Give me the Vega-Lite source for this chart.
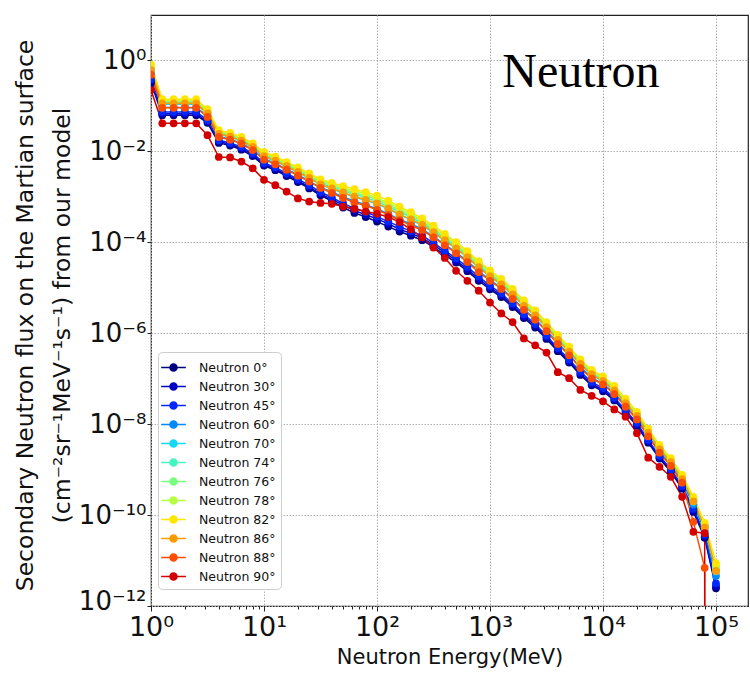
{
  "$schema": "https://vega.github.io/schema/vega-lite/v6.json",
  "width": 597,
  "height": 591,
  "autosize": {"type": "none"},
  "padding": {"left": 151, "top": 15, "right": 2, "bottom": 69},
  "background": "white",
  "config": {"view": {"stroke": "#222222", "strokeWidth": 1.2}, "font": "DejaVu Sans"},
  "datasets": {
    "flux": [
      {"E": 1, "n0": 0.316, "n30": 0.347, "n45": 0.380, "n60": 0.501, "n70": 0.589, "n74": 0.646, "n76": 0.692, "n78": 0.741, "n82": 0.794, "n86": 0.603, "n88": 0.479, "n90": 0.219},
      {"E": 1.259, "n0": 0.0617, "n30": 0.0661, "n45": 0.0724, "n60": 0.0912, "n70": 0.107, "n74": 0.115, "n76": 0.123, "n78": 0.129, "n82": 0.138, "n86": 0.112, "n88": 0.0891, "n90": 0.0407},
      {"E": 1.585, "n0": 0.0617, "n30": 0.0661, "n45": 0.0724, "n60": 0.0912, "n70": 0.107, "n74": 0.115, "n76": 0.123, "n78": 0.129, "n82": 0.138, "n86": 0.112, "n88": 0.0891, "n90": 0.0407},
      {"E": 1.995, "n0": 0.0617, "n30": 0.0661, "n45": 0.0724, "n60": 0.0912, "n70": 0.107, "n74": 0.115, "n76": 0.123, "n78": 0.129, "n82": 0.138, "n86": 0.112, "n88": 0.0891, "n90": 0.0407},
      {"E": 2.512, "n0": 0.0617, "n30": 0.0661, "n45": 0.0724, "n60": 0.0912, "n70": 0.107, "n74": 0.115, "n76": 0.123, "n78": 0.129, "n82": 0.138, "n86": 0.112, "n88": 0.0891, "n90": 0.0407},
      {"E": 3.162, "n0": 0.0417, "n30": 0.0447, "n45": 0.0479, "n60": 0.0589, "n70": 0.0661, "n74": 0.0708, "n76": 0.0741, "n78": 0.0794, "n82": 0.0832, "n86": 0.0676, "n88": 0.0562, "n90": 0.0224},
      {"E": 3.981, "n0": 0.0151, "n30": 0.0162, "n45": 0.0174, "n60": 0.0209, "n70": 0.0234, "n74": 0.0251, "n76": 0.0263, "n78": 0.0275, "n82": 0.0288, "n86": 0.0240, "n88": 0.0204, "n90": 0.00741},
      {"E": 5.012, "n0": 0.0132, "n30": 0.0141, "n45": 0.0151, "n60": 0.0182, "n70": 0.0204, "n74": 0.0219, "n76": 0.0229, "n78": 0.0240, "n82": 0.0251, "n86": 0.0209, "n88": 0.0178, "n90": 0.00724},
      {"E": 6.310, "n0": 0.0107, "n30": 0.0115, "n45": 0.0123, "n60": 0.0148, "n70": 0.0166, "n74": 0.0178, "n76": 0.0186, "n78": 0.0195, "n82": 0.0204, "n86": 0.0170, "n88": 0.0145, "n90": 0.00589},
      {"E": 7.943, "n0": 0.00776, "n30": 0.00832, "n45": 0.00891, "n60": 0.0107, "n70": 0.0120, "n74": 0.0129, "n76": 0.0135, "n78": 0.0141, "n82": 0.0148, "n86": 0.0123, "n88": 0.0105, "n90": 0.00417},
      {"E": 10, "n0": 0.00479, "n30": 0.00513, "n45": 0.00550, "n60": 0.00676, "n70": 0.00759, "n74": 0.00813, "n76": 0.00851, "n78": 0.00912, "n82": 0.00955, "n86": 0.00776, "n88": 0.00646, "n90": 0.00234},
      {"E": 12.59, "n0": 3.80e-3, "n30": 4.07e-3, "n45": 4.37e-3, "n60": 5.37e-3, "n70": 6.03e-3, "n74": 6.46e-3, "n76": 6.76e-3, "n78": 7.24e-3, "n82": 7.59e-3, "n86": 6.17e-3, "n88": 5.13e-3, "n90": 1.78e-3},
      {"E": 15.85, "n0": 2.82e-3, "n30": 3.02e-3, "n45": 3.24e-3, "n60": 3.98e-3, "n70": 4.57e-3, "n74": 4.90e-3, "n76": 5.13e-3, "n78": 5.50e-3, "n82": 5.75e-3, "n86": 4.68e-3, "n88": 3.89e-3, "n90": 1.29e-3},
      {"E": 19.95, "n0": 2.09e-3, "n30": 2.24e-3, "n45": 2.40e-3, "n60": 3.02e-3, "n70": 3.47e-3, "n74": 3.72e-3, "n76": 3.89e-3, "n78": 4.07e-3, "n82": 4.37e-3, "n86": 3.47e-3, "n88": 2.88e-3, "n90": 9.12e-4},
      {"E": 25.12, "n0": 1.51e-3, "n30": 1.62e-3, "n45": 1.78e-3, "n60": 2.19e-3, "n70": 2.51e-3, "n74": 2.75e-3, "n76": 2.88e-3, "n78": 3.02e-3, "n82": 3.24e-3, "n86": 2.57e-3, "n88": 2.14e-3, "n90": 7.76e-4},
      {"E": 31.62, "n0": 1.07e-3, "n30": 1.15e-3, "n45": 1.26e-3, "n60": 1.58e-3, "n70": 1.86e-3, "n74": 2.00e-3, "n76": 2.14e-3, "n78": 2.24e-3, "n82": 2.40e-3, "n86": 1.86e-3, "n88": 1.55e-3, "n90": 7.24e-4},
      {"E": 39.81, "n0": 7.94e-4, "n30": 8.71e-4, "n45": 9.55e-4, "n60": 1.26e-3, "n70": 1.48e-3, "n74": 1.62e-3, "n76": 1.74e-3, "n78": 1.86e-3, "n82": 2.00e-3, "n86": 1.51e-3, "n88": 1.20e-3, "n90": 6.92e-4},
      {"E": 50.12, "n0": 5.75e-4, "n30": 6.46e-4, "n45": 7.08e-4, "n60": 9.77e-4, "n70": 1.20e-3, "n74": 1.35e-3, "n76": 1.45e-3, "n78": 1.55e-3, "n82": 1.70e-3, "n86": 1.23e-3, "n88": 9.33e-4, "n90": 6.03e-4},
      {"E": 63.10, "n0": 4.37e-4, "n30": 4.90e-4, "n45": 5.50e-4, "n60": 7.94e-4, "n70": 9.77e-4, "n74": 1.12e-3, "n76": 1.20e-3, "n78": 1.32e-3, "n82": 1.45e-3, "n86": 1.00e-3, "n88": 7.41e-4, "n90": 5.37e-4},
      {"E": 79.43, "n0": 3.55e-4, "n30": 3.98e-4, "n45": 4.57e-4, "n60": 6.61e-4, "n70": 8.32e-4, "n74": 9.55e-4, "n76": 1.05e-3, "n78": 1.15e-3, "n82": 1.26e-3, "n86": 8.51e-4, "n88": 6.31e-4, "n90": 4.68e-4},
      {"E": 100, "n0": 2.82e-4, "n30": 3.24e-4, "n45": 3.63e-4, "n60": 5.37e-4, "n70": 6.92e-4, "n74": 7.76e-4, "n76": 8.51e-4, "n78": 9.33e-4, "n82": 1.05e-3, "n86": 7.08e-4, "n88": 5.13e-4, "n90": 4.17e-4},
      {"E": 125.9, "n0": 2.19e-4, "n30": 2.51e-4, "n45": 2.82e-4, "n60": 4.17e-4, "n70": 5.37e-4, "n74": 6.03e-4, "n76": 6.61e-4, "n78": 7.24e-4, "n82": 8.13e-4, "n86": 5.50e-4, "n88": 3.98e-4, "n90": 3.55e-4},
      {"E": 158.5, "n0": 1.70e-4, "n30": 1.91e-4, "n45": 2.19e-4, "n60": 3.16e-4, "n70": 3.98e-4, "n74": 4.57e-4, "n76": 5.01e-4, "n78": 5.50e-4, "n82": 6.03e-4, "n86": 4.07e-4, "n88": 3.02e-4, "n90": 2.75e-4},
      {"E": 199.5, "n0": 1.38e-4, "n30": 1.55e-4, "n45": 1.74e-4, "n60": 2.51e-4, "n70": 3.09e-4, "n74": 3.55e-4, "n76": 3.80e-4, "n78": 4.17e-4, "n82": 4.57e-4, "n86": 3.16e-4, "n88": 2.34e-4, "n90": 1.91e-4},
      {"E": 251.2, "n0": 1.10e-4, "n30": 1.23e-4, "n45": 1.38e-4, "n60": 1.91e-4, "n70": 2.34e-4, "n74": 2.57e-4, "n76": 2.82e-4, "n78": 3.02e-4, "n82": 3.31e-4, "n86": 2.40e-4, "n88": 1.82e-4, "n90": 1.26e-4},
      {"E": 316.2, "n0": 7.76e-5, "n30": 8.71e-5, "n45": 9.55e-5, "n60": 1.32e-4, "n70": 1.62e-4, "n74": 1.82e-4, "n76": 1.95e-4, "n78": 2.09e-4, "n82": 2.29e-4, "n86": 1.66e-4, "n88": 1.26e-4, "n90": 7.59e-5},
      {"E": 398.1, "n0": 5.25e-5, "n30": 5.89e-5, "n45": 6.46e-5, "n60": 8.91e-5, "n70": 1.07e-4, "n74": 1.20e-4, "n76": 1.29e-4, "n78": 1.38e-4, "n82": 1.51e-4, "n86": 1.10e-4, "n88": 8.51e-5, "n90": 4.47e-5},
      {"E": 501.2, "n0": 3.55e-5, "n30": 3.89e-5, "n45": 4.37e-5, "n60": 5.89e-5, "n70": 7.24e-5, "n74": 7.94e-5, "n76": 8.51e-5, "n78": 9.12e-5, "n82": 1.00e-4, "n86": 7.24e-5, "n88": 5.62e-5, "n90": 2.34e-5},
      {"E": 631.0, "n0": 2.29e-5, "n30": 2.51e-5, "n45": 2.82e-5, "n60": 3.80e-5, "n70": 4.57e-5, "n74": 5.01e-5, "n76": 5.37e-5, "n78": 5.75e-5, "n82": 6.31e-5, "n86": 4.68e-5, "n88": 3.63e-5, "n90": 1.41e-5},
      {"E": 794.3, "n0": 1.41e-5, "n30": 1.55e-5, "n45": 1.74e-5, "n60": 2.29e-5, "n70": 2.75e-5, "n74": 3.09e-5, "n76": 3.31e-5, "n78": 3.55e-5, "n82": 3.80e-5, "n86": 2.82e-5, "n88": 2.19e-5, "n90": 8.51e-6},
      {"E": 1000, "n0": 9.12e-6, "n30": 1.00e-5, "n45": 1.10e-5, "n60": 1.48e-5, "n70": 1.78e-5, "n74": 1.95e-5, "n76": 2.09e-5, "n78": 2.24e-5, "n82": 2.40e-5, "n86": 1.78e-5, "n88": 1.41e-5, "n90": 4.68e-6},
      {"E": 1259, "n0": 6.17e-6, "n30": 6.76e-6, "n45": 7.41e-6, "n60": 9.77e-6, "n70": 1.15e-5, "n74": 1.26e-5, "n76": 1.35e-5, "n78": 1.45e-5, "n82": 1.55e-5, "n86": 1.17e-5, "n88": 9.33e-6, "n90": 2.69e-6},
      {"E": 1585, "n0": 3.72e-6, "n30": 4.07e-6, "n45": 4.47e-6, "n60": 5.89e-6, "n70": 6.92e-6, "n74": 7.59e-6, "n76": 8.13e-6, "n78": 8.71e-6, "n82": 9.33e-6, "n86": 7.08e-6, "n88": 5.62e-6, "n90": 1.74e-6},
      {"E": 1995, "n0": 2.14e-6, "n30": 2.34e-6, "n45": 2.57e-6, "n60": 3.31e-6, "n70": 3.98e-6, "n74": 4.27e-6, "n76": 4.57e-6, "n78": 4.90e-6, "n82": 5.25e-6, "n86": 3.98e-6, "n88": 3.24e-6, "n90": 7.59e-7},
      {"E": 2512, "n0": 1.32e-6, "n30": 1.45e-6, "n45": 1.58e-6, "n60": 2.04e-6, "n70": 2.40e-6, "n74": 2.63e-6, "n76": 2.75e-6, "n78": 2.95e-6, "n82": 3.16e-6, "n86": 2.45e-6, "n88": 1.95e-6, "n90": 5.37e-7},
      {"E": 3162, "n0": 7.41e-7, "n30": 8.13e-7, "n45": 8.71e-7, "n60": 1.12e-6, "n70": 1.32e-6, "n74": 1.45e-6, "n76": 1.51e-6, "n78": 1.62e-6, "n82": 1.74e-6, "n86": 1.35e-6, "n88": 1.10e-6, "n90": 3.72e-7},
      {"E": 3981, "n0": 3.98e-7, "n30": 4.37e-7, "n45": 4.68e-7, "n60": 6.03e-7, "n70": 6.92e-7, "n74": 7.59e-7, "n76": 8.13e-7, "n78": 8.51e-7, "n82": 9.12e-7, "n86": 7.08e-7, "n88": 5.75e-7, "n90": 1.38e-7},
      {"E": 5012, "n0": 2.24e-7, "n30": 2.40e-7, "n45": 2.63e-7, "n60": 3.31e-7, "n70": 3.89e-7, "n74": 4.17e-7, "n76": 4.47e-7, "n78": 4.68e-7, "n82": 5.01e-7, "n86": 3.89e-7, "n88": 3.24e-7, "n90": 1.02e-7},
      {"E": 6310, "n0": 1.20e-7, "n30": 1.29e-7, "n45": 1.41e-7, "n60": 1.78e-7, "n70": 2.04e-7, "n74": 2.24e-7, "n76": 2.34e-7, "n78": 2.45e-7, "n82": 2.63e-7, "n86": 2.09e-7, "n88": 1.70e-7, "n90": 5.62e-8},
      {"E": 7943, "n0": 7.08e-8, "n30": 7.59e-8, "n45": 8.32e-8, "n60": 1.05e-7, "n70": 1.20e-7, "n74": 1.32e-7, "n76": 1.38e-7, "n78": 1.45e-7, "n82": 1.55e-7, "n86": 1.23e-7, "n88": 1.00e-7, "n90": 4.17e-8},
      {"E": 10000, "n0": 5.25e-8, "n30": 5.62e-8, "n45": 6.17e-8, "n60": 7.59e-8, "n70": 8.71e-8, "n74": 9.55e-8, "n76": 1.00e-7, "n78": 1.05e-7, "n82": 1.12e-7, "n86": 8.91e-8, "n88": 7.41e-8, "n90": 3.16e-8},
      {"E": 12590, "n0": 3.31e-8, "n30": 3.55e-8, "n45": 3.80e-8, "n60": 4.79e-8, "n70": 5.50e-8, "n74": 5.89e-8, "n76": 6.17e-8, "n78": 6.46e-8, "n82": 6.92e-8, "n86": 5.50e-8, "n88": 4.57e-8, "n90": 2.09e-8},
      {"E": 15850, "n0": 1.74e-8, "n30": 1.86e-8, "n45": 2.00e-8, "n60": 2.51e-8, "n70": 2.88e-8, "n74": 3.09e-8, "n76": 3.24e-8, "n78": 3.39e-8, "n82": 3.63e-8, "n86": 2.88e-8, "n88": 2.40e-8, "n90": 1.45e-8},
      {"E": 19950, "n0": 9.12e-9, "n30": 9.77e-9, "n45": 1.05e-8, "n60": 1.29e-8, "n70": 1.48e-8, "n74": 1.58e-8, "n76": 1.66e-8, "n78": 1.78e-8, "n82": 1.86e-8, "n86": 1.51e-8, "n88": 1.26e-8, "n90": 6.31e-9},
      {"E": 25120, "n0": 3.89e-9, "n30": 4.17e-9, "n45": 4.47e-9, "n60": 5.50e-9, "n70": 6.31e-9, "n74": 6.76e-9, "n76": 7.08e-9, "n78": 7.59e-9, "n82": 7.94e-9, "n86": 6.46e-9, "n88": 5.37e-9, "n90": 1.82e-9},
      {"E": 31620, "n0": 1.74e-9, "n30": 1.86e-9, "n45": 2.00e-9, "n60": 2.45e-9, "n70": 2.75e-9, "n74": 2.95e-9, "n76": 3.09e-9, "n78": 3.31e-9, "n82": 3.47e-9, "n86": 2.82e-9, "n88": 2.34e-9, "n90": 1.15e-9},
      {"E": 39810, "n0": 8.91e-10, "n30": 9.55e-10, "n45": 1.02e-9, "n60": 1.26e-9, "n70": 1.41e-9, "n74": 1.51e-9, "n76": 1.58e-9, "n78": 1.70e-9, "n82": 1.78e-9, "n86": 1.45e-9, "n88": 1.20e-9, "n90": 6.92e-10},
      {"E": 50120, "n0": 3.80e-10, "n30": 4.07e-10, "n45": 4.37e-10, "n60": 5.37e-10, "n70": 6.03e-10, "n74": 6.46e-10, "n76": 6.76e-10, "n78": 7.24e-10, "n82": 7.59e-10, "n86": 6.17e-10, "n88": 5.13e-10, "n90": 2.51e-10},
      {"E": 63100, "n0": 1.17e-10, "n30": 1.26e-10, "n45": 1.38e-10, "n60": 1.70e-10, "n70": 1.95e-10, "n74": 2.14e-10, "n76": 2.24e-10, "n78": 2.34e-10, "n82": 2.51e-10, "n86": 2.00e-10, "n88": 7.08e-11, "n90": 4.27e-11},
      {"E": 79430, "n0": 3.16e-11, "n30": 3.39e-11, "n45": 3.72e-11, "n60": 4.57e-11, "n70": 5.25e-11, "n74": 5.75e-11, "n76": 6.03e-11, "n78": 6.31e-11, "n82": 6.76e-11, "n86": 5.37e-11, "n88": 6.92e-12, "n90": 3.98e-11},
      {"E": 100000, "n0": 2.45e-12, "n30": 2.75e-12, "n45": 3.16e-12, "n60": 4.57e-12, "n70": 5.75e-12, "n74": 6.61e-12, "n76": 7.24e-12, "n78": 7.94e-12, "n82": 8.71e-12, "n86": 5.89e-12, "n88": 1e-300, "n90": 1e-300}
    ],
    "label": [{"E": 6383, "F": 0.255, "t": "Neutron"}]
  },
  "layer": [
    {
      "data": {"name": "flux"},
      "transform": [{"fold": ["n0", "n30", "n45", "n60", "n70", "n74", "n76", "n78", "n82", "n86", "n88", "n90"], "as": ["series", "F"]}],
      "encoding": {
        "x": {
          "field": "E", "type": "quantitative",
          "scale": {"type": "log", "domain": [1, 192000], "nice": false, "zero": false},
          "axis": {
            "values": [1, 2, 3, 4, 5, 6, 7, 8, 9, 10, 20, 30, 40, 50, 60, 70, 80, 90, 100, 200, 300, 400, 500, 600, 700, 800, 900, 1000, 2000, 3000, 4000, 5000, 6000, 7000, 8000, 9000, 10000, 20000, 30000, 40000, 50000, 60000, 70000, 80000, 90000, 100000],
            "labelExpr": "abs(log(datum.value)/LN10 - round(log(datum.value)/LN10)) < 0.001 ? '10' + replace(replace(replace(replace(replace(replace(replace(replace(replace(replace(replace('' + round(log(datum.value) / LN10), '-', '⁻'), '0', '⁰'), '1', '¹'), '2', '²'), '3', '³'), '4', '⁴'), '5', '⁵'), '6', '⁶'), '7', '⁷'), '8', '⁸'), '9', '⁹') : ''",
            "labelOverlap": false,
            "labelFlush": false,
            "labelFontSize": 27,
            "labelColor": "#111111",
            "labelPadding": 3,
            "domain": false,
            "grid": true,
            "gridColor": "#b0b0b0",
            "gridDash": [1.5, 1.5],
            "gridWidth": 1,
            "gridOpacity": {"condition": {"test": "abs(log(datum.value)/LN10 - round(log(datum.value)/LN10)) < 0.001", "value": 1}, "value": 0},
            "tickSize": {"condition": {"test": "abs(log(datum.value)/LN10 - round(log(datum.value)/LN10)) < 0.001", "value": 5}, "value": 3},
            "tickColor": "#222222",
            "title": "Neutron Energy(MeV)",
            "titleFontSize": 21,
            "titleFontWeight": "normal",
            "titleColor": "#111111",
            "titleBaseline": "alphabetic",
            "titleY": 57
          }
        },
        "y": {
          "field": "F", "type": "quantitative",
          "scale": {"type": "log", "domain": [1e-12, 9.8], "nice": false, "zero": false},
          "axis": {
            "values": [1e-12, 1e-10, 1e-8, 1e-6, 1e-4, 1e-2, 1],
            "labelExpr": "'10' + replace(replace(replace(replace(replace(replace(replace(replace(replace(replace(replace('' + round(log(datum.value) / LN10), '-', '⁻'), '0', '⁰'), '1', '¹'), '2', '²'), '3', '³'), '4', '⁴'), '5', '⁵'), '6', '⁶'), '7', '⁷'), '8', '⁸'), '9', '⁹')",
            "labelOverlap": false,
            "labelFlush": false,
            "labelFontSize": 26,
            "labelColor": "#111111",
            "labelPadding": 1,
            "labelOffset": {"condition": {"test": "datum.value < 1e-11", "value": -5}, "value": 0},
            "domain": false,
            "grid": true,
            "gridColor": "#b0b0b0",
            "gridDash": [1.5, 1.5],
            "gridWidth": 1,
            "tickSize": 4,
            "tickColor": "#222222",
            "title": ["Secondary Neutron flux on the Martian surface", "(cm⁻²sr⁻¹MeV⁻¹s⁻¹) from our model"],
            "titleFontSize": 23.5,
            "titleFontWeight": "normal",
            "titleColor": "#111111",
            "titleLineHeight": 37,
            "titleAngle": -90,
            "titleAlign": "center",
            "titleBaseline": "middle",
            "titleX": -126,
            "titleY": 300
          }
        },
        "color": {
          "field": "series", "type": "nominal",
          "scale": {
            "domain": ["n0", "n30", "n45", "n60", "n70", "n74", "n76", "n78", "n82", "n86", "n88", "n90"],
            "range": ["#00007f", "#0000c4", "#0028ff", "#0088ff", "#16d8f0", "#46f5c0", "#78ff7e", "#b4ff44", "#ffe600", "#ff9a00", "#ff4d00", "#d20000"]
          },
          "legend": {
            "orient": "none",
            "legendX": 7,
            "legendY": 337,
            "title": null,
            "labelFontSize": 12.5,
            "labelColor": "#111111",
            "labelExpr": "'Neutron ' + slice(datum.label, 1) + '°'",
            "symbolType": "M-1.3,0H1.3M0.37,0A0.37,0.37,0,1,1,-0.37,0A0.37,0.37,0,1,1,0.37,0Z",
            "symbolSize": 361,
            "symbolStrokeWidth": 1.5,
            "rowPadding": 1,
            "padding": 5,
            "labelOffset": 15,
            "fillColor": "white",
            "strokeColor": "#cccccc",
            "cornerRadius": 4,
            "encode": {"symbols": {"update": {"fill": {"scale": "color", "field": "value"}, "stroke": {"scale": "color", "field": "value"}, "opacity": {"value": 1}}}}
          }
        }
      },
      "layer": [
        {"mark": {"type": "line", "strokeWidth": 1.5, "clip": true}},
        {"mark": {"type": "point", "filled": true, "size": 60, "opacity": 1, "clip": true}}
      ]
    },
    {
      "data": {"name": "label"},
      "mark": {"type": "text", "font": "Liberation Serif", "fontSize": 48, "align": "center", "baseline": "alphabetic", "color": "black"},
      "encoding": {
        "x": {"field": "E", "type": "quantitative"},
        "y": {"field": "F", "type": "quantitative"},
        "text": {"field": "t"}
      }
    }
  ]
}
